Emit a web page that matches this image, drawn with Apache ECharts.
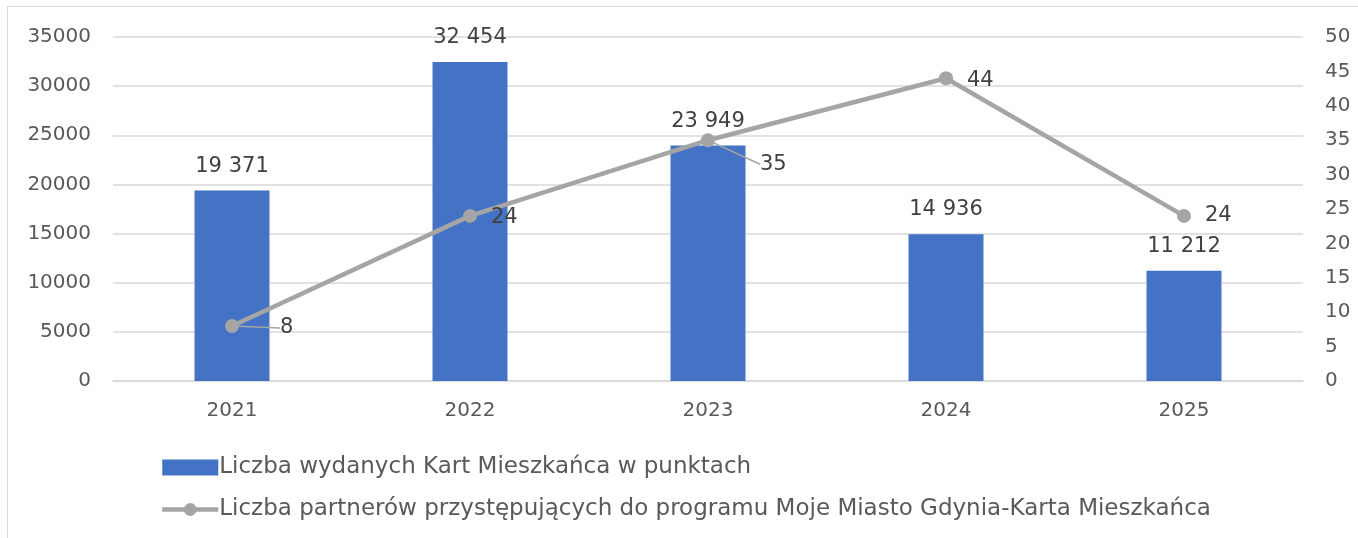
<!DOCTYPE html>
<html>
<head>
<meta charset="utf-8">
<script src="https://cdn.jsdelivr.net/npm/echarts@6/dist/echarts.min.js"></script>
<style>
html,body{margin:0;padding:0;background:#fff;}
#chart{width:1358px;height:538px;}
</style>
</head>
<body>
<div id="chart"></div>
<script>
const categories = ['2021', '2022', '2023', '2024', '2025'];
const cardValues = [19371, 32454, 23949, 14936, 11212];
const partnerValues = [8, 24, 35, 44, 24];
const cardName = 'Liczba wydanych Kart Mieszkańca w punktach';
const partnerName = 'Liczba partnerów przystępujących do programu Moje Miasto Gdynia-Karta Mieszkańca';
// label offsets for line labels (dx, dy) in pixels
const partnerLabelShift = [[27, 2], [0, 2], [31, 24], [0, 2], [0, 0]];

const FONT = 'DejaVu Sans';
const TXT = '#595959';
const chart = echarts.init(document.getElementById('chart'));
const fmt = v => String(v).replace(/\B(?=(\d{3})+(?!\d))/g, ' ');

chart.setOption({
  animation: false,
  textStyle: {fontFamily: FONT, color: TXT},
  graphic: [{
    type: 'rect', shape: {x: 7.5, y: 6.5, width: 1400, height: 600},
    style: {fill: 'none', stroke: '#D9D9D9', lineWidth: 1}, silent: true
  }],
  grid: {left: 113, right: 55, top: 37, bottom: 157},
  legend: {
    orient: 'vertical', left: 155, top: 451, itemGap: 19,
    itemWidth: 56, itemHeight: 16,
    textStyle: {fontFamily: FONT, fontSize: 23, color: TXT, padding: [0, 0, 0, -4]},
    data: [
      {name: cardName, icon: 'rect'},
      {name: partnerName, lineStyle: {width: 4.5, color: '#A5A5A5'}}
    ]
  },
  xAxis: {
    type: 'category', data: categories,
    axisLine: {lineStyle: {color: '#D9D9D9', width: 1.5}},
    axisTick: {show: false},
    axisLabel: {fontFamily: FONT, fontSize: 20, color: TXT, margin: 20}
  },
  yAxis: [{
    type: 'value', min: 0, max: 35000, interval: 5000,
    axisLine: {show: false}, axisTick: {show: false},
    splitLine: {lineStyle: {color: '#D9D9D9', width: 1.5}},
    axisLabel: {fontFamily: FONT, fontSize: 20, color: TXT, margin: 22, formatter: v => String(v)}
  }, {
    type: 'value', min: 0, max: 50, interval: 5,
    axisLine: {show: false}, axisTick: {show: false},
    splitLine: {show: false},
    axisLabel: {fontFamily: FONT, fontSize: 20, color: TXT, margin: 22}
  }],
  series: [{
    name: cardName, type: 'bar', data: cardValues, yAxisIndex: 0,
    barWidth: '31.5%',
    itemStyle: {color: '#4472C4'},
    label: {show: true, position: 'top', distance: 14, fontFamily: FONT, fontSize: 21, color: '#404040',
      formatter: p => fmt(p.value)}
  }, {
    name: partnerName, type: 'line', yAxisIndex: 1,
    data: partnerValues.map((v, i) => ({value: v, labelLine: {show: partnerLabelShift[i][0] !== 0}})),
    symbol: 'circle', symbolSize: 14,
    lineStyle: {color: '#A5A5A5', width: 4.5},
    itemStyle: {color: '#A5A5A5'},
    label: {show: true, position: 'right', distance: 14, fontFamily: FONT, fontSize: 21, color: '#404040'},
    labelLine: {show: true, lineStyle: {color: '#A5A5A5', width: 1.5}},
    labelLayout: p => ({dx: partnerLabelShift[p.dataIndex][0], dy: partnerLabelShift[p.dataIndex][1]})
  }]
});
</script>
</body>
</html>
